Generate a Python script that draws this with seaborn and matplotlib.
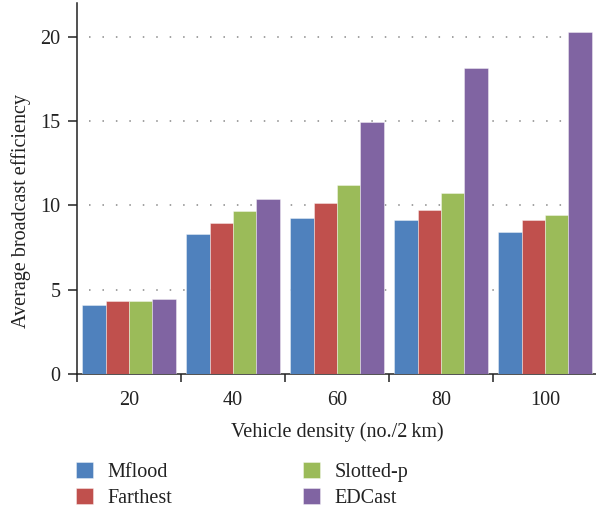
import matplotlib
matplotlib.use("Agg")
import matplotlib.pyplot as plt
import seaborn as sns
import pandas as pd

categories = ["20", "40", "60", "80", "100"]
series_names = ["Mflood", "Farthest", "Slotted-p", "EDCast"]
mflood = [4.12, 8.30, 9.23, 9.11, 8.40]
farthest = [4.30, 8.97, 10.12, 9.70, 9.11]
slotted_p = [4.34, 9.64, 11.23, 10.75, 9.45]
edcast = [4.42, 10.40, 14.94, 18.12, 20.28]
y_ticks = [0, 5, 10, 15, 20]
colors = ["#4F81BD", "#C0504D", "#9BBB59", "#8064A2"]

rows = []
for name, vals in zip(series_names, [mflood, farthest, slotted_p, edcast]):
    for c, v in zip(categories, vals):
        rows.append({"density": c, "method": name, "value": v})
df = pd.DataFrame(rows)

sns.set_theme(style="white")
plt.rcParams["font.family"] = ["Liberation Serif", "DejaVu Serif"]

W, H = 596, 513
fig = plt.figure(figsize=(W / 100, H / 100), dpi=100)
ax = fig.add_axes([77 / W, 1 - 374 / H, 520 / W, (374 - 3) / H])

sns.barplot(data=df, x="density", y="value", hue="method", order=categories,
            hue_order=series_names, palette=colors, width=0.9, saturation=1,
            edgecolor=(1, 1, 1, 0.45), linewidth=0.6, ax=ax, zorder=3)

ax.set_ylim(0, 22.0)
ax.set_xlim(-0.5, 4.5)
ax.set_yticks(y_ticks)
ax.set_yticklabels([str(t) for t in y_ticks])
for t in y_ticks[1:]:
    ax.axhline(t, xmin=0.023, color="#888888", lw=1.1, linestyle=(0, (1, 7.8)), zorder=1)

fs = 14.5
ax.set_xticks(range(len(categories)))
ax.set_xticklabels(categories)
ax.set_xticks([i - 0.5 for i in range(len(categories) + 1)], minor=True)
ax.tick_params(bottom=True, left=True, which="both")
ax.tick_params(axis="x", which="major", length=0, pad=12, labelsize=fs, colors="#222222")
ax.tick_params(axis="x", which="minor", length=6, width=1.1, direction="out", color="#222222")
ax.tick_params(axis="y", which="major", length=6.5, width=1.1, direction="out", labelsize=fs,
               colors="#222222", pad=5.5)

for s in ["top", "right"]:
    ax.spines[s].set_visible(False)
for s in ["left", "bottom"]:
    ax.spines[s].set_color("#222222")
    ax.spines[s].set_linewidth(1.1)

ax.set_xlabel("Vehicle density (no./2\u2009km)", fontsize=fs, color="#222222")
ax.xaxis.set_label_coords(0.5, -(422 - 374) / 371)
ax.set_ylabel("Average broadcast efficiency", fontsize=fs, color="#222222")
ax.yaxis.set_label_coords(-(77 - 31) / 520, (374 - 211) / 371)

handles, labels = ax.get_legend_handles_labels()
ax.legend(handles, labels, ncol=2, frameon=False, fontsize=fs,
          loc="upper left", bbox_to_anchor=(68 / W, 1 - 454 / H),
          bbox_transform=fig.transFigure, handlelength=0.85, handleheight=0.85,
          handletextpad=0.7, columnspacing=6.5, labelspacing=0.3, borderaxespad=0)
for t in ax.get_legend().get_texts():
    t.set_color("#222222")

fig.savefig("out.png", dpi=100)
